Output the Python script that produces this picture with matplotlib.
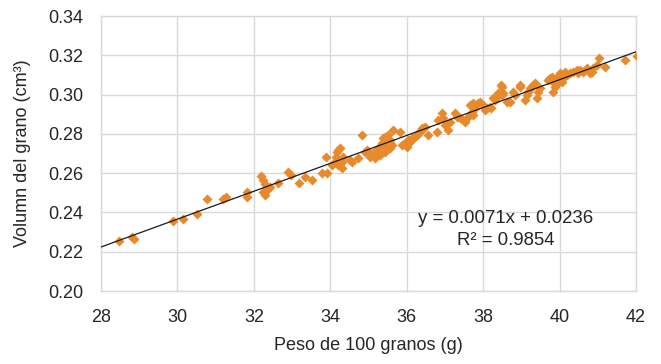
import matplotlib
matplotlib.use("Agg")
import matplotlib.pyplot as plt
import numpy as np

# Data
peso = [28.47, 28.81, 28.86, 29.88, 30.15, 30.51, 30.77, 31.19, 31.27, 31.82,
        31.82, 32.19, 32.24, 32.29, 32.42, 32.37, 32.24, 32.29, 32.63, 32.89,
        32.97, 33.18, 33.34, 33.52, 33.78, 33.91, 33.89, 34.05, 34.15, 34.20,
        34.20, 34.25, 34.18, 34.33, 34.31, 34.12, 34.31, 34.52, 34.57, 34.73,
        34.83, 34.91, 34.96, 35.04, 35.09, 35.12, 35.22, 35.25, 35.30, 35.35,
        35.38, 35.43, 35.51, 35.64, 35.83, 35.56, 35.62, 35.56, 35.17, 35.30,
        35.43, 35.49, 35.88, 35.96, 36.01, 36.03, 36.14, 36.22, 36.30, 36.09,
        36.27, 36.35, 36.40, 36.48, 36.56, 36.79, 36.92, 36.95, 36.82, 37.00,
        37.08, 37.13, 37.26, 37.32, 37.40, 37.47, 37.53, 37.66, 37.74, 37.79,
        37.71, 37.74, 37.60, 37.87, 37.92, 38.00, 38.05, 38.10, 38.18, 38.26,
        38.36, 38.39, 38.21, 38.31, 38.49, 38.52, 38.49, 38.63, 38.70, 38.78,
        38.83, 38.97, 39.10, 39.15, 39.17, 39.23, 39.28, 39.31, 39.36, 39.41,
        39.44, 39.49, 39.70, 39.75, 39.80, 39.83, 39.88, 39.83, 39.93, 40.01,
        40.06, 40.14, 40.20, 40.27, 40.35, 40.46, 40.48, 39.96, 40.06, 40.09,
        40.54, 40.61, 40.72, 40.80, 40.85, 40.88, 40.98, 41.03, 41.19, 41.71,
        42.03, 38.46, 38.97]
volumen = [0.2255, 0.2275, 0.2265, 0.2356, 0.2367, 0.2392, 0.2468, 0.2468, 0.2479, 0.2504,
           0.2479, 0.2586, 0.2565, 0.2545, 0.2530, 0.2519, 0.2504, 0.2489, 0.2550, 0.2606,
           0.2591, 0.2550, 0.2580, 0.2565, 0.2601, 0.2601, 0.2682, 0.2642, 0.2682, 0.2642,
           0.2718, 0.2728, 0.2708, 0.2682, 0.2657, 0.2657, 0.2626, 0.2667, 0.2657, 0.2677,
           0.2794, 0.2708, 0.2718, 0.2682, 0.2692, 0.2703, 0.2718, 0.2728, 0.2733, 0.2754,
           0.2779, 0.2784, 0.2794, 0.2820, 0.2810, 0.2769, 0.2743, 0.2728, 0.2677, 0.2692,
           0.2708, 0.2733, 0.2743, 0.2754, 0.2733, 0.2769, 0.2779, 0.2784, 0.2804, 0.2759,
           0.2794, 0.2810, 0.2830, 0.2835, 0.2794, 0.2810, 0.2906, 0.2881, 0.2871, 0.2845,
           0.2820, 0.2860, 0.2906, 0.2886, 0.2881, 0.2871, 0.2860, 0.2947, 0.2957, 0.2932,
           0.2911, 0.2896, 0.2886, 0.2957, 0.2962, 0.2947, 0.2922, 0.2932, 0.2937, 0.2983,
           0.2988, 0.3008, 0.2932, 0.2973, 0.2998, 0.3008, 0.3039, 0.2962, 0.2962, 0.3013,
           0.2998, 0.3039, 0.2973, 0.2998, 0.3013, 0.3034, 0.3039, 0.3049, 0.3059, 0.2983,
           0.3013, 0.3034, 0.3074, 0.3085, 0.3090, 0.3064, 0.3039, 0.3013, 0.3090, 0.3110,
           0.3100, 0.3115, 0.3100, 0.3110, 0.3115, 0.3125, 0.3110, 0.3059, 0.3064, 0.3085,
           0.3125, 0.3115, 0.3135, 0.3110, 0.3115, 0.3135, 0.3151, 0.3186, 0.3141, 0.3176,
           0.3197, 0.3049, 0.3049]

pendiente = 0.0071
intercepto = 0.0236
eq_text = "y = 0.0071x + 0.0236"
r2_text = "R² = 0.9854"

x_ticks = [28, 30, 32, 34, 36, 38, 40, 42]
y_ticks = [0.20, 0.22, 0.24, 0.26, 0.28, 0.30, 0.32, 0.34]

plt.rcParams['font.family'] = ['Liberation Sans', 'DejaVu Sans']

fig = plt.figure(figsize=(6.61, 3.64), dpi=100)
ax = fig.add_axes([0.1528, 0.2005, 0.8094, 0.7555])

grid_c = '#D9D9D9'
txt_c = '#262626'
fs = 13
ax.set_xlim(28, 42)
ax.set_ylim(0.20, 0.34)
ax.set_xticks(x_ticks)
ax.set_yticks(y_ticks)
ax.set_xticklabels([str(t) for t in x_ticks])
ax.set_yticklabels([f"{t:.2f}" for t in y_ticks])
ax.grid(True, color=grid_c, linewidth=1.0)
ax.set_axisbelow(True)
for s in ax.spines.values():
    s.set_color(grid_c)
    s.set_linewidth(1.0)
ax.tick_params(length=0, labelsize=fs, colors=txt_c)
ax.tick_params(axis='x', pad=13)
ax.tick_params(axis='y', pad=13)

ax.scatter(peso, volumen, marker='D', s=26, color='#E88A2C', linewidths=0, zorder=3)

xl = np.array([28, 42])
ax.plot(xl, pendiente * xl + intercepto, color='#1a1a1a', linewidth=0.9, zorder=4)

ax.text(38.6, 0.2367, eq_text, ha='center', va='center', fontsize=13.4, color=txt_c)
ax.text(38.6, 0.2257, r2_text, ha='center', va='center', fontsize=13.4, color=txt_c)

ax.set_xlabel("Peso de 100 granos (g)", fontsize=fs, color=txt_c, labelpad=8)
ax.set_ylabel("Volumn del grano (cm³)", fontsize=fs, color=txt_c, labelpad=12)

fig.savefig("out.png", dpi=100)
